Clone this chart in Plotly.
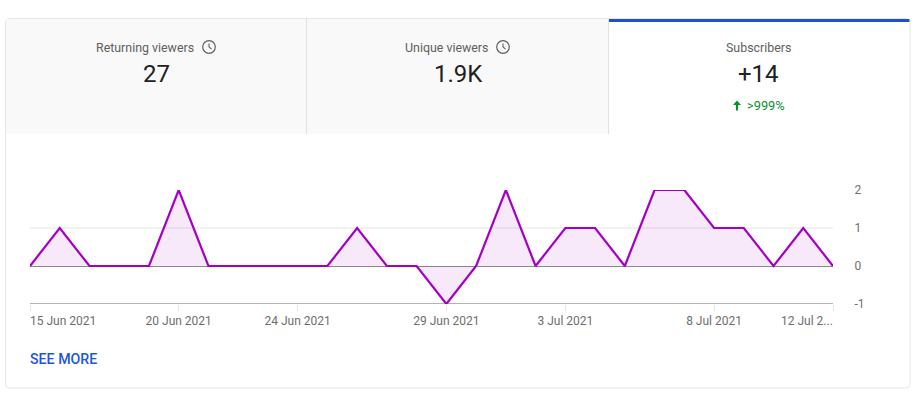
import plotly.graph_objects as go

W, H = 917, 396

dates = ["2021-06-15","2021-06-16","2021-06-17","2021-06-18","2021-06-19","2021-06-20","2021-06-21",
         "2021-06-22","2021-06-23","2021-06-24","2021-06-25","2021-06-26","2021-06-27","2021-06-28",
         "2021-06-29","2021-06-30","2021-07-01","2021-07-02","2021-07-03","2021-07-04","2021-07-05",
         "2021-07-06","2021-07-07","2021-07-08","2021-07-09","2021-07-10","2021-07-11","2021-07-12"]
subscribers = [0,1,0,0,0,2,0,0,0,0,0,1,0,0,-1,0,2,0,1,1,0,2,2,1,1,0,1,0]
tick_dates = ["2021-06-15","2021-06-20","2021-06-24","2021-06-29","2021-07-03","2021-07-08","2021-07-12"]
tick_labels = ["", "20 Jun 2021", "24 Jun 2021", "29 Jun 2021", "3 Jul 2021", "8 Jul 2021", ""]
first_label = "15 Jun 2021"
last_label = "12 Jul 2..."
y_ticks = [-1, 0, 1, 2]
tabs = [("Returning viewers", 144.5, "27", 156),
        ("Unique viewers", 446, "1.9K", 458),
        ("Subscribers", 758.5, "+14", 758.5)]

FONT = "Roboto, sans-serif"
def px(x): return x / W
def py(y): return 1 - y / H

def rect(x0, y0, x1, y1, fill, line=None, w=1):
    return dict(type="rect", xref="paper", yref="paper", x0=px(x0), x1=px(x1), y0=py(y0), y1=py(y1),
                fillcolor=fill, line=dict(color=line or "rgba(0,0,0,0)", width=w if line else 0), layer="below")

def seg(x0, y0, x1, y1, color, w=1, layer="below"):
    return dict(type="line", xref="paper", yref="paper", x0=px(x0), x1=px(x1), y0=py(y0), y1=py(y1),
                line=dict(color=color, width=w), layer=layer)

def clock(cx, cy, r=6.3, color="#606060"):
    return [
        dict(type="circle", xref="paper", yref="paper", x0=px(cx-r), x1=px(cx+r), y0=py(cy+r), y1=py(cy-r),
             line=dict(color=color, width=1.2), layer="above"),
        seg(cx, cy-3.6, cx, cy, color, 1.1, "above"),
        seg(cx, cy, cx+2.6, cy+2.2, color, 1.1, "above"),
    ]

shapes = [
    dict(type="path", xref="paper", yref="paper", layer="below",
         path=f"M {px(9)},{py(18.5)} L {px(906)},{py(18.5)} Q {px(910)},{py(18.5)} {px(910)},{py(22)} "
              f"L {px(910)},{py(384)} Q {px(910)},{py(388)} {px(906)},{py(388)} L {px(9)},{py(388)} "
              f"Q {px(5.5)},{py(388)} {px(5.5)},{py(384)} L {px(5.5)},{py(22)} Q {px(5.5)},{py(18.5)} {px(9)},{py(18.5)} Z",
         fillcolor="#ffffff", line=dict(color="#e6e6e6", width=1)),
    rect(6, 19, 608, 134, "#f9f9f9"),
    seg(306.5, 19, 306.5, 134, "#e2e2e2"),
    seg(608.5, 19, 608.5, 134, "#e2e2e2"),
    rect(609, 19, 909.5, 22, "#1c4fd2"),
    dict(type="path", xref="paper", yref="paper", layer="above", fillcolor="#0a8f2e", line=dict(width=0),
         path=f"M {px(737)},{py(100.5)} L {px(741)},{py(105)} L {px(738.1)},{py(105)} L {px(738.1)},{py(110.5)} "
              f"L {px(735.9)},{py(110.5)} L {px(735.9)},{py(105)} L {px(733)},{py(105)} Z"),
] + clock(209, 47) + clock(503, 47)

ann = []
def text(x, y, s, size, color, anchor="center", weight=None):
    f = dict(family=FONT, size=size, color=color)
    if weight: f["weight"] = weight
    ann.append(dict(xref="paper", yref="paper", x=px(x), y=py(y), text=s, showarrow=False, xanchor=anchor,
                    yanchor="middle", font=f, borderpad=0, borderwidth=0))

for label, lx, value, vx in tabs:
    text(lx, 47, label, 12.4, "#606060")
    text(vx, 74, value, 24, "#212121")
text(747, 105.5, ">999%", 12.8, "#0a8f2e", "left")
text(30, 359, "SEE MORE", 14.2, "#1c56dc", "left", 500)
text(30, 321, first_label, 12, "#6e6e6e", "left")
text(833, 321, last_label, 12, "#6e6e6e", "right")

fig = go.Figure(go.Scatter(
    x=dates, y=subscribers, mode="lines", fill="tozeroy", fillcolor="rgba(161,0,200,0.09)",
    line=dict(color="#a400c4", width=2.2), hoverinfo="skip", showlegend=False, cliponaxis=False))

fig.update_layout(
    width=W, height=H, margin=dict(l=0, r=0, t=0, b=0, pad=0, autoexpand=False), autosize=False,
    paper_bgcolor="#ffffff", plot_bgcolor="rgba(0,0,0,0)",
    font=dict(family=FONT, size=12, color="#6e6e6e"),
    shapes=shapes, annotations=ann,
    xaxis=dict(domain=[px(30), px(833)], range=[dates[0], dates[-1]], type="date", automargin=False,
               tickmode="array", tickvals=tick_dates, ticktext=tick_labels, ticks="outside", ticklen=6,
               tickcolor="#e6e6e6", tickwidth=1, showgrid=False, zeroline=False, showline=False,
               anchor="y", tickfont=dict(size=12, color="#6e6e6e")),
    yaxis=dict(domain=[py(304), py(190)], range=[-1, 2], side="right", anchor="x", automargin=False, tickmode="array",
               tickvals=y_ticks, ticktext=[str(v) for v in y_ticks], ticks="outside", ticklen=18,
               tickcolor="rgba(0,0,0,0)", gridcolor="#f2f2f2", gridwidth=2, zeroline=True,
               zerolinecolor="#8a8a8a", zerolinewidth=1, showline=False,
               tickfont=dict(size=12, color="#6e6e6e")),
)
# baseline of the plot at y = -1
fig.add_shape(type="line", xref="x domain", yref="y", x0=0, x1=1, y0=-1, y1=-1,
              line=dict(color="#9a9a9a", width=1.5), layer="below")

fig.write_html("out.html", config={"displayModeBar": False},
               post_script="document.body.style.margin='0';document.body.style.overflow='hidden';")
